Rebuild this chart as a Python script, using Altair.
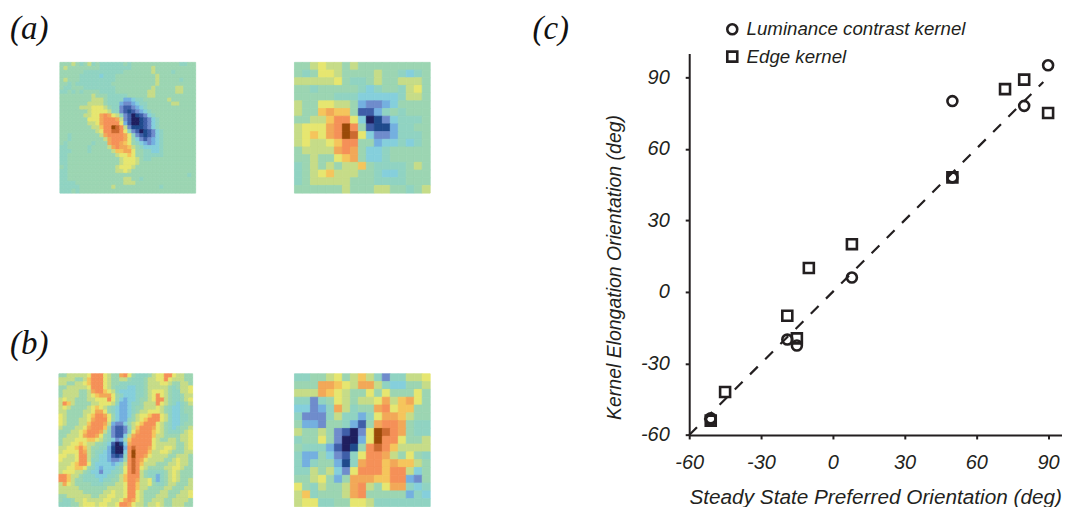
import altair as alt
import pandas as pd

KERNEL_A1 = """
7778767867 6666667677 7777777777 6677
7877777777 6666666677 7778777777 7777
7777776666 6666667777 7778777767 7777
7777766666 5666777777 7777877777 7777
7877766666 6666777777 7777877777 6777
7767666666 6667777777 7777877777 7777
7667776666 6666777777 7778777778 8777
6676767777 6666777777 7788777778 8777
7777777787 7766666777 7788777777 7777
7777777788 8766664456 6777777877 7777
7777777888 8766643345 6677777788 7777
7777788899 9876632234 5677777777 7777
7777777899 9986632123 4567777777 7777
7777778899 bcb9863201 2356777777 7777
7777777999 bcccb83200 1235677777 7777
7777777889 bcccc94200 1235677777 7777
7777777788 accedc8311 1235677777 7777
7777777778 9ccddc9632 0123567777 7777
7767777777 8bccccb963 2123567777 7777
7767777777 78bcccb975 3234567777 7777
7677777767 77bccba976 5434567777 7777
6677777677 778bcbba87 6555567777 7777
6667777677 7778aabb97 7665567777 7777
6677777777 7777899a97 7666667777 7777
6677777777 7777789998 7667777777 7777
6677777777 7777789998 7777777777 7777
7677777777 7777899987 7777777777 7777
6677777777 7777889877 7777777777 7777
6677777777 7777777777 7777777777 7767
6677777777 7777778877 6777777777 7777
6666777777 7777778887 7777777777 7777
6666677777 7778777777 7777767777 7777
6667677777 7777777777 7777777777 7777
"""

KERNEL_A2 = """
77898878777777777
76799877778776567
88888976678778887
77677777656776897
77777666555556887
87799887433457777
877abaa7224676777
7788acc9501356667
8999bcec721146677
89a9bced953346667
89889acc774556567
78888bcb755677777
778779ab755677777
67878788a76666787
6789a888776556777
67888887776666777
77777787778877678
"""

KERNEL_B1 = """
77888889cc c9877bc976 667899cc98 877
8888778acc c987788766 678899c988 877
8877889acc c987766666 6788899877 887
77888889cc c987666556 6788888767 889
78888778bc ca98655556 6789998766 889
788887789a bbb9765556 6789c98766 788
8988777889 99c9754556 7789cc8766 789
8ca8777788 9998644566 7888c98765 678
898777789a 9876544567 7888987655 677
887777889b b976544567 8899987655 677
98777789ac cb97544578 99acc98655 667
98777889bc cc97544678 9accc98655 667
9877788acc cb84335789 accc987655 677
8777889bcc ca7322368a cccb987656 778
777889accc b86322369b ccca987666 789
778889bccb 97632258bc ccca887777 889
7888999aa9 8765347acc ccc9877887 889
78899a9887 7652015bcc ccc9888887 789
8899aca877 6641004cdc ccb9889987 789
89999cb876 6541005cec cca8899877 788
99889cc876 5542126cec cb98888778 887
98889cc866 5543347cdc b988887789 887
8889acc965 5554568cdc a888777889 887
8899aa9765 4555679cdc 9877778899 877
8999887655 3556679cdc 8766667898 777
cca8876665 556678accc 8766467898 777
cca8776666 566778accb 8896467898 778
8b98777766 6777889cca 8897667887 778
8888877777 7788889cca 8877778877 788
8888887777 7889889cc9 8777788777 889
7788888877 8899889cc9 8777888778 889
7667889888 899889bcb9 8778887788 887
6667789998 99889ccb98 8788987788 877
"""

KERNEL_B2 = """
66778978a86366889
777bba98bb8655778
888ba987797977797
66367987889b8ab97
55346b8677bc9aa77
63336866469bba877
7443776427bccb766
8778732039edcb766
6779730049ecc9778
766642017cdca8888
644753269ccb87976
64677416bccabaa87
66878539cccacc857
7789747bbbaacc437
9768778bc879bb656
8a67778bc77777465
89966779986666666
"""

LEVEL_COLORS = ["#1f1f5f", "#1f4a8c", "#3f5ea8", "#6f8ccc", "#74b0e0", "#85cfdc", "#90d3c2",
                "#9cd5b2", "#c6dc88", "#e6e670", "#f5c55c", "#f2a858", "#f59058", "#cc6a30", "#9a4a08"]

CIRCLE_X = [90, 50, 80, 50, 8, -19, -15, -51, -51]
CIRCLE_Y = [95, 80, 78, 48, 6, -20, -22.5, -53, -53.5]
SQUARE_X = [72, 80, 90, 50, 8, -10, -19, -15, -45, -51]
SQUARE_Y = [85, 89, 75, 48, 20, 10, -10, -19.5, -42, -54]
LINE_XY = [-60, 88]
TICKS = [-60, -30, 0, 30, 60, 90]
NAMES = ["Luminance contrast kernel", "Edge kernel"]
INK = "#231f20"
SANS = "Liberation Sans"
SERIF = "Liberation Serif"

level_scale = alt.Scale(domain=list(range(15)), range=LEVEL_COLORS)


def heat(k, w, h):
    rows = [r.replace(" ", "") for r in k.strip().splitlines()]
    df = pd.DataFrame([{"c": c, "c2": c + 1, "r": r, "r2": r + 1, "v": int(ch, 16)}
                       for r, row in enumerate(rows) for c, ch in enumerate(row)])
    return alt.Chart(df).mark_rect(strokeWidth=0.8).encode(
        x=alt.X("c:Q", axis=None, scale=alt.Scale(domain=[0, len(rows[0])], nice=False, zero=False)),
        x2="c2:Q",
        y=alt.Y("r:Q", axis=None, scale=alt.Scale(domain=[0, len(rows)], nice=False, zero=False, reverse=True)),
        y2="r2:Q",
        color=alt.Color("v:Q", scale=level_scale, legend=None),
        stroke=alt.Stroke("v:Q", scale=level_scale, legend=None),
    ).properties(width=w, height=h)


def label(text, px, py):
    return alt.Chart(pd.DataFrame({"t": [text]})).mark_text(
        font=SERIF, fontStyle="italic", fontSize=33, align="left", baseline="alphabetic", color="#111"
    ).encode(x=alt.value(px), y=alt.value(py), text="t:N")


def spacer(w, h, text="", px=0, py=40):
    return label(text, px, py).properties(width=w, height=h)


row_a = alt.hconcat(spacer(51, 131), heat(KERNEL_A1, 136, 131), spacer(97, 131), heat(KERNEL_A2, 136, 131),
                    spacing=0)
row_b = alt.hconcat(spacer(50, 133), heat(KERNEL_B1, 134, 133), spacer(100, 133), heat(KERNEL_B2, 136, 133),
                    spacing=0)
left = alt.vconcat(spacer(420, 7.3, "(a)", 2, -14.7), row_a, spacer(420, 179, "(b)", 2, 160.5), row_b, spacing=0)

pts = pd.DataFrame({
    "x": CIRCLE_X + SQUARE_X,
    "y": CIRCLE_Y + SQUARE_Y,
    "k": [NAMES[0]] * len(CIRCLE_X) + [NAMES[1]] * len(SQUARE_X),
})
x_scale = alt.Scale(domain=[-60, 95.6], nice=False, zero=False)
y_scale = alt.Scale(domain=[-60, 100], nice=False, zero=False)
line = alt.Chart(pd.DataFrame({"x": LINE_XY, "y": LINE_XY})).mark_line(
    color=INK, strokeWidth=2.2, strokeDash=[11, 10.5]
).encode(x=alt.X("x:Q", scale=x_scale), y=alt.Y("y:Q", scale=y_scale))
points = alt.Chart(pts).mark_point(filled=False, color=INK, strokeWidth=2.6, size=100, opacity=1).encode(
    x=alt.X("x:Q", scale=x_scale, axis=alt.Axis(
        values=TICKS, labelExpr="'' + datum.value", title="Steady State Preferred Orientation (deg)", grid=False,
        domainWidth=2, domainColor=INK, labelFlush=False,
        tickColor=INK, tickWidth=2, tickSize=4, labelPadding=14, labelFont=SANS, labelFontStyle="italic",
        labelFontSize=20, labelColor=INK, labelFontWeight="normal", titleFont=SANS, titleFontStyle="italic",
        titleFontSize=20.8, titleColor=INK, titleFontWeight="normal", titlePadding=14.5, titleAnchor="end")),
    y=alt.Y("y:Q", scale=y_scale, axis=alt.Axis(
        values=TICKS, labelExpr="'' + datum.value", title="Kernel Elongation Orientation (deg)", grid=False,
        domainWidth=2, domainColor=INK, labelFlush=False,
        tickColor=INK, tickWidth=2, tickSize=4, labelPadding=16, labelFont=SANS, labelFontStyle="italic",
        labelFontSize=20, labelColor=INK, labelFontWeight="normal", titleFont=SANS, titleFontStyle="italic",
        titleFontSize=19.5, titleColor=INK, titleFontWeight="normal", titleX=-65, titleY=214)),
    shape=alt.Shape("k:N", scale=alt.Scale(domain=NAMES, range=["circle", "square"]), legend=alt.Legend(
        orient="none", legendX=716.3, legendY=-33.5, title=None, direction="vertical", labelFont=SANS,
        labelFontStyle="italic", labelFontSize=18.7, labelColor=INK, symbolStrokeWidth=2.6, symbolSize=100,
        symbolStrokeColor=INK, rowPadding=6.4, labelOffset=5, labelLimit=400)),
)
scatter = alt.layer(line, points, label("(c)", -157, -14.7), label("", 0, -19)).properties(width=373, height=382.3)

chart = alt.hconcat(left, scatter, spacing=101.5).properties(padding=0).configure_view(stroke=None)

chart.save("out.html", embed_options={"renderer": "svg", "actions": False})
